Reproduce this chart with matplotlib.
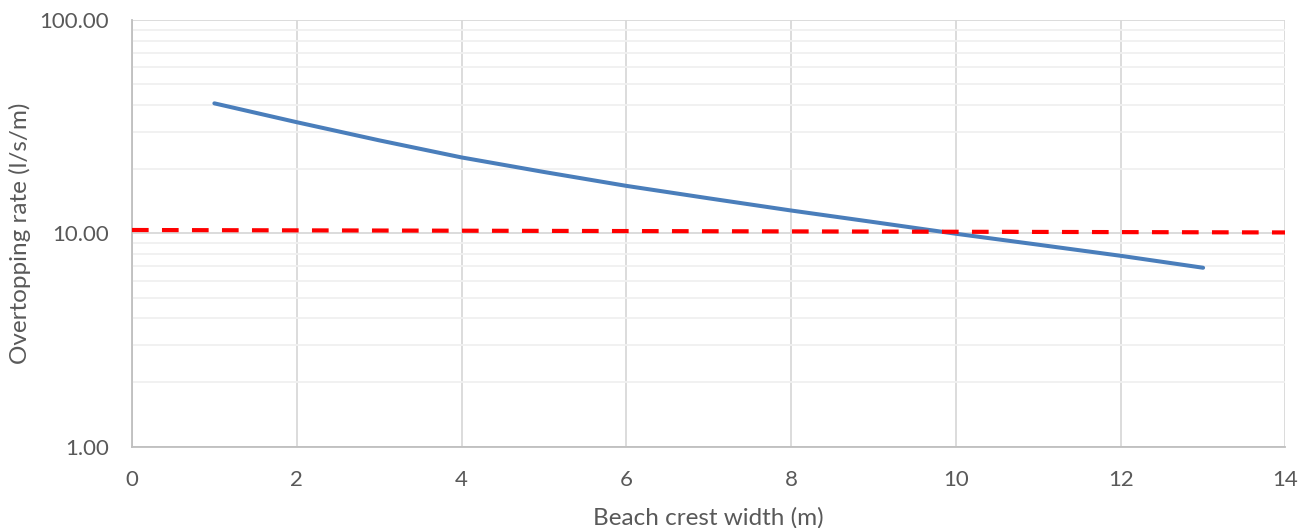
import matplotlib
matplotlib.use("Agg")
import matplotlib.pyplot as plt
from matplotlib.ticker import FixedLocator, FuncFormatter, LogLocator, NullFormatter

# Data
crest_width = [1, 2, 3, 4, 5, 6, 7, 8, 9, 10, 11, 12, 13]
overtopping = [40.7, 33.2, 27.3, 22.7, 19.4, 16.7, 14.6, 12.8, 11.3, 9.96, 8.85, 7.85, 6.9]
limit_x = [0, 14]
limit_y = [10.37, 10.1]
x_ticks = [0, 2, 4, 6, 8, 10, 12, 14]
y_ticks = [1, 10, 100]

plt.rcParams['font.family'] = ['Lato', 'DejaVu Sans']
text_color = '#595959'

fig = plt.figure(figsize=(12.99, 5.28), dpi=100)
ax = fig.add_axes([0.1016, 0.154, 0.888, 0.808])

ax.set_yscale('log')
ax.set_xlim(0, 14)
ax.set_ylim(1, 100)

ax.plot(crest_width, overtopping, color='#4a7ebb', lw=2.9, solid_capstyle='round', zorder=3)
ax.plot(limit_x, limit_y, color='#ff0000', lw=3.0, dashes=(4, 3.2), zorder=4)

ax.xaxis.set_major_locator(FixedLocator(x_ticks))
ax.yaxis.set_major_locator(FixedLocator(y_ticks))
ax.yaxis.set_minor_locator(LogLocator(base=10, subs=range(2, 10)))
ax.yaxis.set_minor_formatter(NullFormatter())
ax.yaxis.set_major_formatter(FuncFormatter(lambda v, p: f"{v:.2f}"))

ax.grid(True, which='major', color='#d9d9d9', lw=1.3, zorder=0)
ax.grid(True, which='minor', axis='y', color='#f0f0f0', lw=1.3, zorder=0)
ax.set_axisbelow(True)

for s in ['top', 'right']:
    ax.spines[s].set_visible(False)
for s in ['left', 'bottom']:
    ax.spines[s].set_color('#bfbfbf')
    ax.spines[s].set_linewidth(1.3)

ax.tick_params(which='both', length=0, labelsize=16, colors=text_color)
ax.tick_params(axis='x', pad=17)
ax.tick_params(axis='y', pad=16.5)

ax.set_xlabel('Beach crest width (m)', fontsize=17.5, color=text_color, labelpad=12)
ax.set_ylabel('Overtopping rate (l/s/m)', fontsize=17.5, color=text_color, va='center')
ax.yaxis.set_label_coords(-112 / (0.888 * 1299), 0.5)

fig.savefig('out.png', dpi=100)
